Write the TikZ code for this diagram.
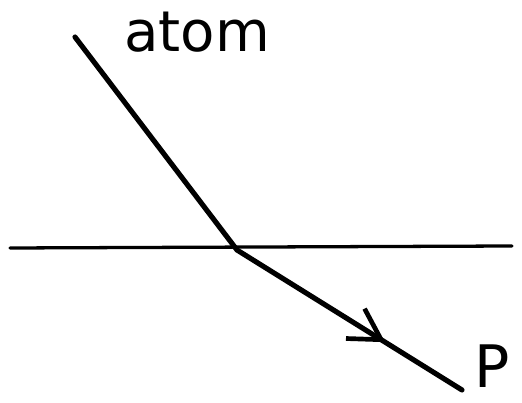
\documentclass[tikz,border=0pt]{standalone}
\usepackage{fontspec}
\setmainfont{DejaVu Sans}
\usetikzlibrary{arrows.meta,decorations.markings}
\tikzset{
  pen/.style={line width=4.4pt,line cap=round,line join=round},
  midarrow/.style={postaction={decorate},decoration={markings,
    mark=at position #1 with {\arrow[line width=4pt]{Straight Barb[length=26pt,width=30pt]}}}}
}
\begin{document}
\begin{tikzpicture}[x=0.03cm,y=-0.03cm]
    \useasboundingbox (0,0) rectangle (522,403);
    % surface
    \coordinate (left) at (10,248);
    \coordinate (right) at (512,246);
    \draw[line width=2.8pt,line cap=round] (left) -- (right);
    % path of the atom, bent at the surface
    \coordinate (start) at (75,37);
    \coordinate (bend) at (237,250);
    \coordinate (stop) at (462,390);
    \draw[pen,midarrow=0.83] (start) -- (bend) -- (stop);
    \node (atom) at (197,32) [font=\fontsize{48}{50}\selectfont] {atom};
    \node (p) at (492,366) [inner sep=0pt,font=\fontsize{50}{56}\selectfont] {P};
  \end{tikzpicture}
\end{document}
